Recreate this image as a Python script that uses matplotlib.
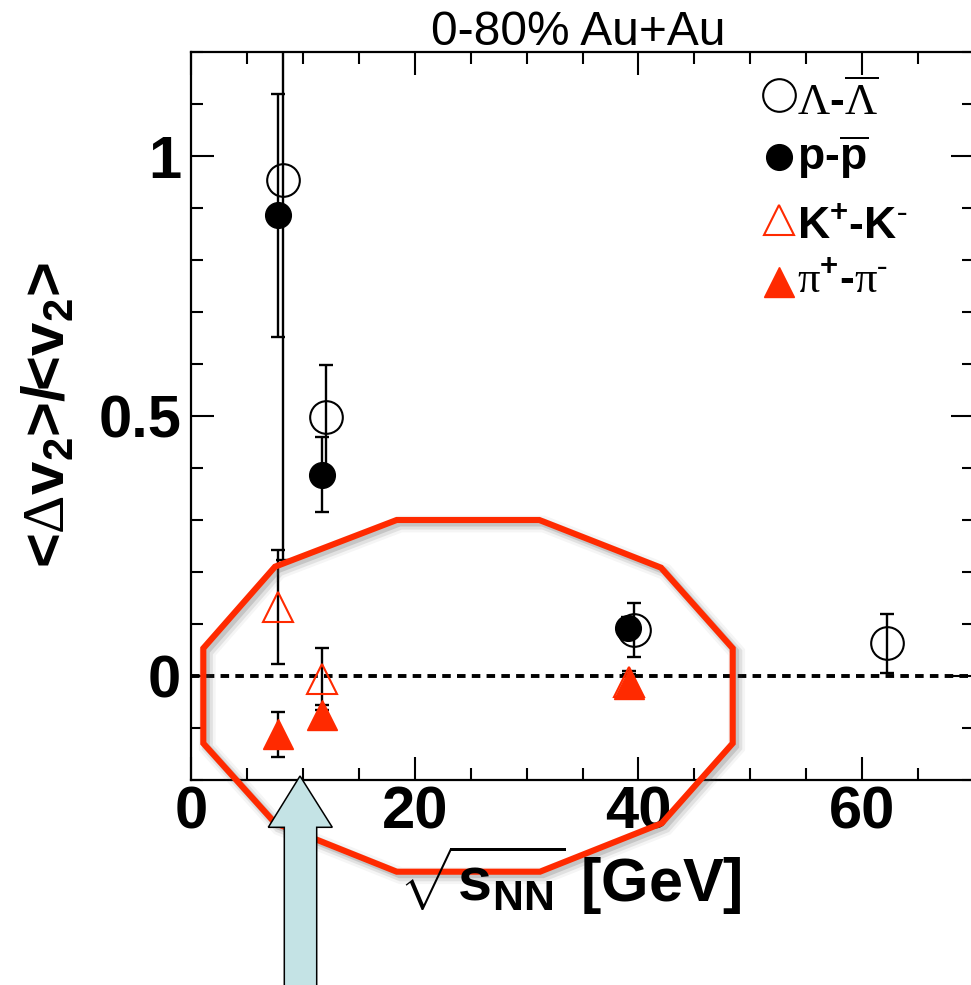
import matplotlib
matplotlib.use("Agg")
import matplotlib.pyplot as plt
import matplotlib.transforms as mtransforms
from matplotlib.ticker import MultipleLocator, FuncFormatter
from matplotlib.lines import Line2D
from matplotlib.patches import Polygon

plt.rcParams['font.family'] = ['Liberation Sans', 'DejaVu Sans']
plt.rcParams['mathtext.fontset'] = 'custom'
plt.rcParams['mathtext.rm'] = 'Liberation Serif'
plt.rcParams['mathtext.bf'] = 'Liberation Sans:bold'
plt.rcParams['mathtext.it'] = 'Liberation Sans:italic'
plt.rcParams['mathtext.sf'] = 'Liberation Sans'

# <Delta v2>/<v2> for particle - antiparticle pairs, 0-80% Au+Au
lam_x = [8.2, 12.1, 39.6, 62.2]
lam_y = [0.954, 0.499, 0.089, 0.063]
lam_err = [0.73, 0.10, 0.052, 0.057]

p_x = [7.8, 11.75, 39.1]
p_y = [0.886, 0.387, 0.093]
p_err = [0.234, 0.072, 0.02]

k_x = [7.75, 11.7, 39.2]
k_y = [0.133, -0.006, -0.011]
k_err = [0.11, 0.06, 0.02]

pi_x = [7.75, 11.7, 39.2]
pi_y = [-0.112, -0.075, -0.016]
pi_err = [0.043, 0.02, 0.02]

legend_labels = [r'$\mathrm{Λ}$-$\overline{\mathrm{Λ}}$',
                 r'p-$\overline{\mathbf{p}}$',
                 r'K$^{\mathbf{+}}$-K$^{\mathrm{\text{-}}}$',
                 r'$\mathrm{π}^{\mathbf{+}}$-$\mathrm{π}^{\mathrm{\text{-}}}$']

RED = '#ff2a00'
W, H = 971, 985

fig = plt.figure(figsize=(W / 100, H / 100), dpi=100)
# pixel coordinates measured from the top-left corner of the canvas
px = mtransforms.Affine2D().scale(1, -1).translate(0, H)

ax = fig.add_axes([191 / W, 1 - 780 / H, (974 - 191) / W, (780 - 52) / H])
ax.set_xlim(0, 70)
ax.set_ylim(-0.2, 1.2)

for s in ax.spines.values():
    s.set_linewidth(1.6)

ax.xaxis.set_major_locator(MultipleLocator(20))
ax.xaxis.set_minor_locator(MultipleLocator(5))
ax.yaxis.set_major_locator(MultipleLocator(0.5))
ax.yaxis.set_minor_locator(MultipleLocator(0.1))
ax.yaxis.set_major_formatter(FuncFormatter(lambda v, _: f'{v:g}'))
ax.xaxis.set_major_formatter(FuncFormatter(lambda v, _: f'{v:g}'))
ax.tick_params(which='both', direction='in', top=True, right=True, width=1.5,
               labelsize=43)
ax.tick_params(which='major', length=16.5)
ax.tick_params(which='minor', length=8.6)
ax.tick_params(axis='y', which='major', pad=7)
ax.tick_params(axis='x', which='major', pad=4)
for lab in ax.get_xticklabels() + ax.get_yticklabels():
    lab.set_fontweight('bold')

ax.axhline(0, color='black', lw=2.8, ls=(0, (2.2, 1.6)), zorder=1)

eb = dict(fmt='none', ecolor='black', elinewidth=1.7, capsize=5, capthick=1.7, zorder=2)

ax.errorbar(lam_x, lam_y, yerr=lam_err, **eb)
ax.plot(lam_x, lam_y, 'o', ms=23.5, mfc='none', mec='black', mew=1.5, zorder=3)

ax.errorbar(p_x, p_y, yerr=p_err, **eb)
ax.plot(p_x, p_y, 'o', ms=18.5, mfc='black', mec='black', zorder=3)

ax.errorbar(k_x, k_y, yerr=k_err, **eb)
ax.plot(k_x, k_y, '^', ms=21, mfc='none', mec=RED, mew=1.5, zorder=3)

ax.errorbar(pi_x, pi_y, yerr=pi_err, **eb)
ax.plot(pi_x, pi_y, '^', ms=21, mfc=RED, mec=RED, zorder=3)

# legend
leg_styles = [dict(marker='o', ms=23.5, mfc='none', mec='black', mew=1.5),
              dict(marker='o', ms=18.5, mfc='black', mec='black'),
              dict(marker='^', ms=21, mfc='none', mec=RED, mew=1.5),
              dict(marker='^', ms=21, mfc=RED, mec=RED)]
leg_marker_y = [95, 157, 220, 282]
leg_text_y = [115, 170, 239, 293]
for style, my, ty, lab in zip(leg_styles, leg_marker_y, leg_text_y, legend_labels):
    fig.add_artist(Line2D([779], [my], transform=px, ls='none', **style))
    fig.text(797, ty, lab, transform=px, ha='left', va='baseline',
             fontsize=32, fontweight='bold')

fig.text(578, 45, '0-80% Au+Au', transform=px, ha='center', va='baseline', fontsize=34.5)
fig.text(570, 880, r'$\sqrt{\mathbf{s}_{\mathbf{NN}}}$ [GeV]', transform=px,
         ha='center', va='center', fontsize=44, fontweight='bold')
fig.text(49, 415, r'<$\mathrm{Δ}$v$_{\mathbf{2}}$>/<v$_{\mathbf{2}}$>', transform=px,
         rotation=90, ha='center', va='center', fontsize=43, fontweight='bold')

# highlight outline with a soft drop shadow
outline = [(396.7, 520), (539.3, 520), (661, 567.7), (732.7, 648.3), (732.7, 743.3),
           (661.7, 823.3), (540, 871.7), (396.7, 871.7), (275, 823), (203.3, 743.3),
           (203.3, 648.3), (275, 566.7)]
for off, lw, a in [(4, 12, 0.06), (4, 8, 0.12), (3, 5, 0.2)]:
    shadow = [(x + off, y + off) for x, y in outline]
    fig.add_artist(Polygon(shadow, closed=True, fill=False, ec='#555555', lw=lw,
                           alpha=a, transform=px, joinstyle='miter'))
fig.add_artist(Polygon(outline, closed=True, fill=False, ec=RED, lw=4.4,
                       transform=px, joinstyle='miter'))

# upward arrow below the axis
arrow = [(300, 776), (332.3, 827.3), (316.7, 827.3), (316.7, 992), (284.3, 992),
         (284.3, 827.3), (268.3, 827.3)]
fig.add_artist(Polygon(arrow, closed=True, fc='#c4e3e5', ec='black', lw=1.1,
                       transform=px, joinstyle='miter'))

fig.savefig('out.png', dpi=100)
